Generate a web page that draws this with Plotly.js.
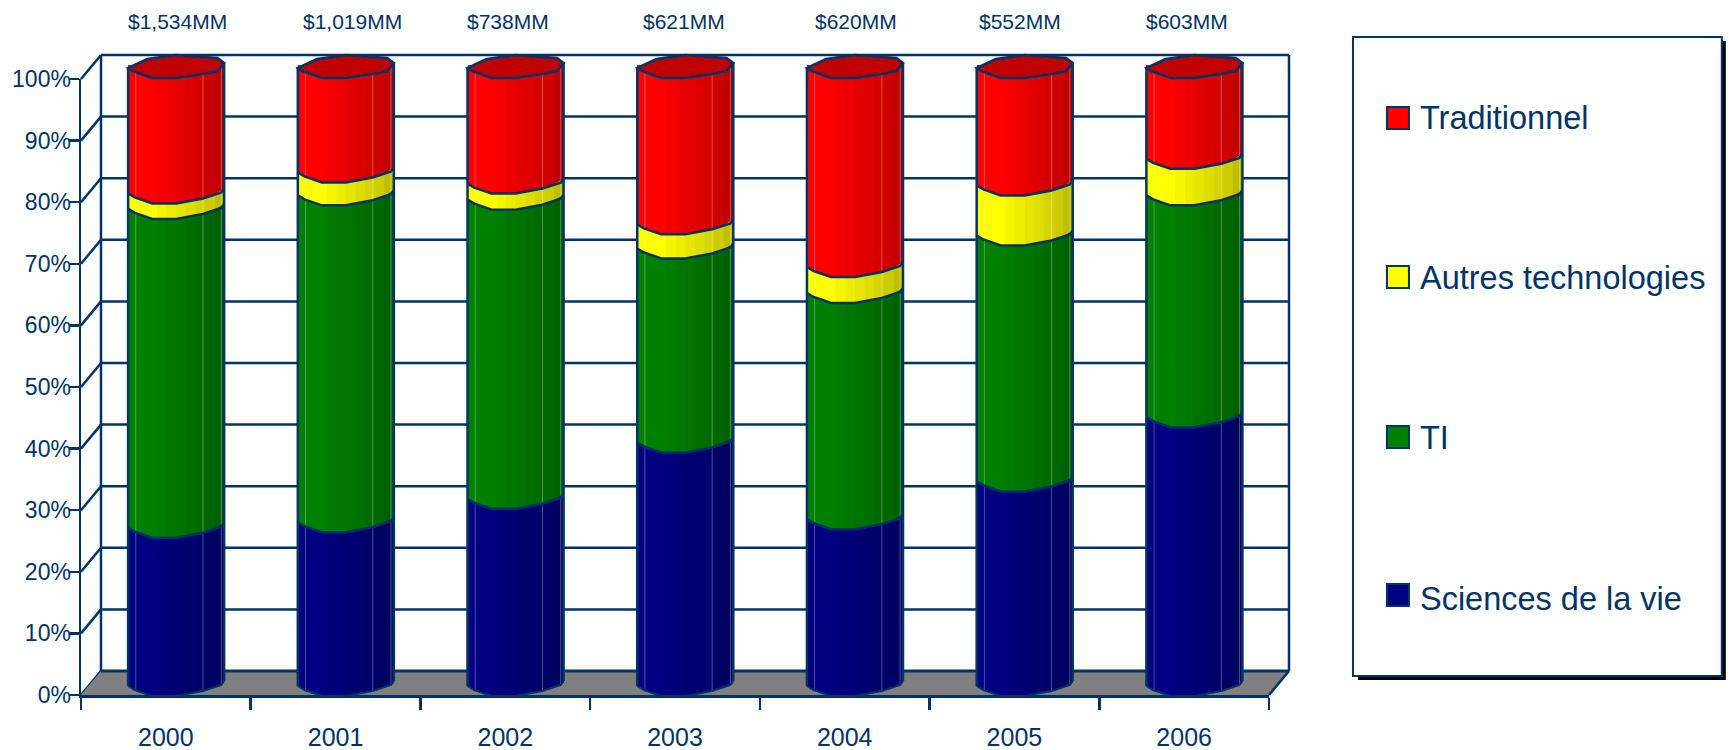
<!DOCTYPE html>
<html>
<head>
<meta charset="utf-8">
<script src="https://cdn.plot.ly/plotly-3.0.1.min.js"></script>
<style>html,body{margin:0;padding:0;background:#fff}#c{width:1729px;height:750px}</style>
</head>
<body>
<div id="c"></div>
<script>
const years = [2000,2001,2002,2003,2004,2005,2006];
const totals = ['$1,534MM','$1,019MM','$738MM','$621MM','$620MM','$552MM','$603MM'];
const sciences = [25.6,26.5,30.3,39.4,27.0,33.1,43.5];
const ti = [51.6,52.9,48.4,31.4,36.6,39.8,35.9];
const autres = [2.5,3.7,2.6,3.9,4.2,8.1,5.9];
const traditionnel = [20.3,16.9,18.7,25.3,32.2,19.0,14.7];
const seriesNames = ['Sciences de la vie','TI','Autres technologies','Traditionnel'];
const seriesColors = ['#000080','#008000','#ffff00','#ff0000'];
const percentTicks = [0,10,20,30,40,50,60,70,80,90,100];
const totalShifts = [2,7,-7,-1,1,-4,-7];
const seriesValues = [sciences,ti,autres,traditionnel];

const NAVY = '#003366';
const L = 80.5, R = 1269, FRONT_T = 79, FRONT_B = 695, TOP = 40, BOT = 705;
const DX = 20, DY = 24;
const W = R - L, H = BOT - TOP;
const px = v => (v - L) / W;
const py = v => (BOT - v) / H;
const frontY = v => FRONT_B - (FRONT_B - FRONT_T) * v / 100;
const PXU = 6.18;
const Y2 = [(683 - BOT) / PXU, (683 - TOP) / PXU];
const BAR_OFF = -0.2225, BAR_W = 0.566;

const SU = [0,0.07,0.25,0.5,0.78,0.97,1];
const SS = [3,7,13,13,8,2,-2];
const CU = [0,0.05,0.25,0.5,0.78,0.93,1];
const CS = [3,6,13,13,9,6,-2];
const TU = [0.93,0.5,0.2];
const TS = [-7,-10,-6];
const sag = u => {
  for (let i = 1; i < SU.length; i++) if (u <= SU[i]) {
    const t = (u - SU[i-1]) / (SU[i] - SU[i-1]);
    return SS[i-1] + t * (SS[i] - SS[i-1]);
  }
  return SS[SS.length-1];
};
const xAt = (yr,u) => yr + BAR_OFF + BAR_W * u;
const yAt = (v,off) => v - off / PXU;
const pt = (yr,u,v,off) => xAt(yr,u).toFixed(4) + ',' + yAt(v,off).toFixed(3);
const barShape = (path, fill, lineColor, lineW) => ({
  type:'path', xref:'x', yref:'y2', layer:'above', path,
  fillcolor: fill || 'rgba(0,0,0,0)',
  line:{color:lineColor || 'rgba(0,0,0,0)', width:lineW || 0}
});
const paperRect = (x0,y0,x1,y1,fill,lineColor,lw) => ({
  type:'rect', xref:'paper', yref:'paper', layer:'below',
  x0:px(x0), x1:px(x1), y0:py(y1), y1:py(y0),
  fillcolor:fill, line:{color:lineColor || 'rgba(0,0,0,0)', width:lw || 0}
});
const paperLine = (x0,y0,x1,y1,w) => ({
  type:'line', xref:'paper', yref:'paper', layer:'below',
  x0:px(x0), x1:px(x1), y0:py(y0), y1:py(y1), line:{color:NAVY, width:w || 2}
});

const shapes = [];
const wl = L + DX, wr = R + DX;
percentTicks.forEach(v => {
  const y = frontY(v);
  if (v > 0) shapes.push(paperLine(wl, y - DY, wr, y - DY, 2.5));
  shapes.push(paperLine(L, y, wl, y - DY, 2.5));
});
shapes.push({
  type:'path', xref:'paper', yref:'paper', layer:'below',
  path:'M'+px(L)+','+py(FRONT_B)+' L'+px(wl)+','+py(FRONT_B-DY)+' L'+px(wr)+','+py(FRONT_B-DY)+' L'+px(R)+','+py(FRONT_B)+' Z',
  fillcolor:'#808080', line:{width:0}
});
shapes.push(paperLine(wl, FRONT_B-DY, wr, FRONT_B-DY, 3));
shapes.push(paperLine(wr, FRONT_B-DY, R, FRONT_B, 2.5));
shapes.push(paperLine(wl, FRONT_T-DY, wl, FRONT_B-DY, 2.5));
shapes.push(paperLine(wr, FRONT_T-DY, wr, FRONT_B-DY, 2.5));

shapes.push(paperRect(1358,41,1726,680,'#000000'));
shapes.push(paperRect(1353,37,1722,676,'#ffffff',NAVY,2));
const legendRows = [595,437,277,118];
seriesColors.forEach((c,i) => {
  const y = legendRows[i];
  shapes.push(paperRect(1387,y-11,1409,y+11,c,NAVY,2));
});

const facetU = [0,0.3,0.4,0.5,0.6,0.7,0.8,0.9,1];
const facetA = [0,0.04,0.07,0.1,0.13,0.17,0.2,0.25];
const sheenU = [0.08,0.78,0.97];
years.forEach((yr,b) => {
  let run = 0;
  const levels = [0];
  seriesValues.forEach(s => { run += s[b]; levels.push(run); });
  const top = levels[4];
  const bottomPts = v => SU.map((u,i) => pt(yr,u,v,SS[i]));
  const lip = v => 'M' + bottomPts(v).concat([pt(yr,1,v,-6), pt(yr,0,v,-6)]).join(' L') + ' Z';
  shapes.push(barShape(lip(0), seriesColors[0]));
  for (let k = 1; k < 4; k++) {
    const v = levels[k];
    shapes.push(barShape(lip(v), seriesColors[k]));
    shapes.push(barShape('M'+pt(yr,0.88,v,5)+' L'+pt(yr,1,v,-2)+' L'+pt(yr,1,v,0)+' Z', seriesColors[k-1]));
  }
  facetA.forEach((a,i) => {
    if (!a) return;
    const u0 = facetU[i], u1 = facetU[i+1];
    shapes.push(barShape(
      'M'+pt(yr,u0,top,sag(u0)-1)+' L'+pt(yr,u1,top,sag(u1)-1)+' L'+pt(yr,u1,0,sag(u1))+' L'+pt(yr,u0,0,sag(u0))+' Z',
      'rgba(0,0,0,'+a+')'));
  });
  sheenU.forEach(u => {
    shapes.push(barShape('M'+pt(yr,u,top,sag(u))+' L'+pt(yr,u,0,sag(u)), null, 'rgba(255,255,255,0.3)', 1));
  });
  for (let k = 1; k < 4; k++) {
    shapes.push(barShape('M' + bottomPts(levels[k]).join(' L'), null, NAVY, 2.5));
  }
  shapes.push(barShape('M' + bottomPts(0).join(' L'), null, NAVY, 2));
  shapes.push(barShape('M'+pt(yr,0,top,3)+' L'+pt(yr,0,0,3), null, NAVY, 2.5));
  shapes.push(barShape('M'+pt(yr,1,top,-2)+' L'+pt(yr,1,0,-2), null, NAVY, 2.5));
  const capBottom = CU.map((u,i) => pt(yr,u,top,CS[i]));
  const capTop = TU.map((u,i) => pt(yr,u,top,TS[i]));
  shapes.push(barShape('M' + capBottom.concat(capTop).join(' L') + ' Z', '#c00000', NAVY, 2.5));
});

const traces = seriesValues.map((vals,i) => ({
  type:'bar', x:years, y:vals, name:seriesNames[i], yaxis:'y2',
  width:BAR_W, offset:BAR_OFF, cliponaxis:false,
  legendgroup:seriesNames[i], legendrank:seriesNames.length - i,
  marker:{color:seriesColors[i], line:{width:0}},
  hoverinfo:'x+y+name'
}));
// keeps the front percent axis in the figure
traces.push({type:'scatter', mode:'markers', x:[years[0]], y:[percentTicks[0]], xaxis:'x', yaxis:'y',
  marker:{opacity:0, size:1}, showlegend:false, hoverinfo:'skip'});

const annotations = years.map((yr,i) => ({
  x:yr + 0.059, xref:'x', y:py(22), yref:'paper', xshift:totalShifts[i],
  text:totals[i], showarrow:false, xanchor:'center', yanchor:'middle',
  font:{family:'"Liberation Sans", Arial, sans-serif', size:21, color:NAVY}
}));

const layout = {
  width:1729, height:750,
  margin:{l:L, r:1729-R, t:TOP, b:45, pad:0, autoexpand:false},
  paper_bgcolor:'#ffffff', plot_bgcolor:'rgba(0,0,0,0)',
  barmode:'stack', showlegend:true,
  font:{family:'"Liberation Sans", Arial, sans-serif', color:NAVY},
  xaxis:{
    range:[1999.5,2006.5], anchor:'y', showgrid:false, zeroline:false,
    showline:true, linecolor:NAVY, linewidth:2.5,
    tickmode:'array', tickvals:years, ticktext:years.map(String),
    ticks:'outside', ticklen:18, tickwidth:1, tickcolor:'rgba(0,0,0,0)',
    tickfont:{family:'"Liberation Sans", Arial, sans-serif', size:25, color:NAVY},
    minor:{tickmode:'array', tickvals:[1999.5,2000.5,2001.5,2002.5,2003.5,2004.5,2005.5,2006.5],
           ticks:'outside', ticklen:12, tickwidth:2.5, tickcolor:NAVY, showgrid:false}
  },
  yaxis:{
    domain:[(BOT-FRONT_B)/H,(BOT-FRONT_T)/H], range:[0,100], anchor:'x',
    tickmode:'array', tickvals:percentTicks, ticktext:percentTicks.map(v=>v+'%'),
    ticks:'outside', ticklen:10, tickwidth:2.5, tickcolor:NAVY,
    ticklabelstandoff:-7,
    showline:true, linecolor:NAVY, linewidth:2.5, showgrid:false, zeroline:false,
    tickfont:{family:'"Liberation Sans", Arial, sans-serif', size:23, color:NAVY}
  },
  yaxis2:{domain:[0,1], range:Y2, anchor:'x', visible:false, showgrid:false, zeroline:false},
  legend:{
    x:px(1380), xanchor:'left', y:py(88.5), yanchor:'top',
    bgcolor:'rgba(0,0,0,0)', borderwidth:0,
    traceorder:'grouped', tracegroupgap:115,
    font:{family:'"Liberation Sans", Arial, sans-serif', size:32.5, color:NAVY},
    itemclick:false, itemdoubleclick:false
  },
  shapes, annotations
};
Plotly.newPlot('c', traces, layout, {displayModeBar:false, staticPlot:true});
</script>
</body>
</html>
